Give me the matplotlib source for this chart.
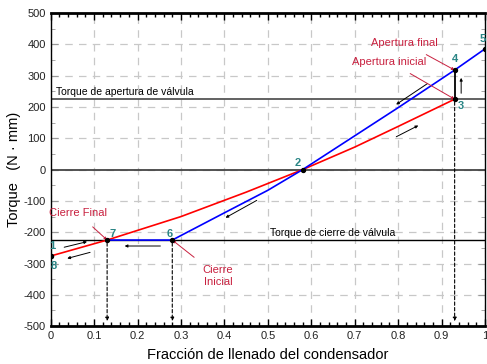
import matplotlib
matplotlib.use("Agg")
import matplotlib.pyplot as plt
from matplotlib.ticker import MultipleLocator

plt.rcParams['font.family'] = ['Liberation Sans', 'DejaVu Sans']

# curva de apertura (roja) y de cierre (azul)
red_x = [0, 0.13, 0.3, 0.45, 0.58, 0.7, 0.8, 0.93]
red_y = [-276, -225, -150, -72, 0, 72, 138, 225]
blue_x = [0.13, 0.28, 0.4, 0.5, 0.58, 0.7, 0.8, 0.93, 1.0]
blue_y = [-225, -225, -138, -66, 0, 108, 198, 318, 386]

torque_open = 225
torque_close = -225

# puntos numerados
pt_labels = ['1', '2', '3', '4', '5', '6', '7', '8']
pt_x = [0, 0.58, 0.93, 0.93, 1.0, 0.28, 0.13, 0]
pt_y = [-276, 0, 225, 318, 386, -225, -225, -276]
pt_off = [(0.003, 32), (-0.012, 22), (0.015, -22), (0.0, 35), (-0.005, 30),
          (-0.007, 20), (0.012, 20), (0.008, -32)]

# flechas de direccion (inicio, fin)
dir_arrows = [((0.873, 280), (0.79, 203)),
              ((0.79, 101), (0.852, 145)),
              ((0.945, 235), (0.945, 302)),
              ((0.48, -94), (0.397, -158)),
              ((0.259, -244), (0.164, -244)),
              ((0.025, -250), (0.09, -228)),
              ((0.097, -262), (0.032, -286))]

fig = plt.figure(figsize=(4.87, 3.64), dpi=100)
ax = fig.add_axes([0.104, 0.104, 0.892, 0.86])

ax.set_xlim(0, 1.0)
ax.set_ylim(-500, 500)
ax.xaxis.set_major_locator(MultipleLocator(0.1))
ax.xaxis.set_minor_locator(MultipleLocator(0.02))
ax.yaxis.set_major_locator(MultipleLocator(100))
ax.yaxis.set_minor_locator(MultipleLocator(50))
ax.xaxis.set_major_formatter(plt.FuncFormatter(lambda v, p: ('%g' % round(v, 2))))
ax.yaxis.set_major_formatter(plt.FuncFormatter(lambda v, p: '%d' % v))
ax.tick_params(which='both', direction='in', top=True, right=True, labelsize=8, labelcolor='#222222')
ax.tick_params(which='major', length=5, color='#999999')
ax.tick_params(which='minor', length=3, color='#999999')
ax.tick_params(axis='x', which='both', color='black', width=1)

ax.grid(True, which='major', linestyle=(0, (6, 5)), color='#c8c8c8', lw=0.9)
ax.set_axisbelow(True)
ax.spines['top'].set_linewidth(2)
ax.spines['bottom'].set_linewidth(2)
ax.spines['left'].set_linewidth(1)
ax.spines['right'].set_linewidth(1)

ax.axhline(0, color='#444444', lw=1.3, zorder=2)
ax.axhline(torque_open, color='#555555', lw=1.3, zorder=2)
ax.axhline(torque_close, color='black', lw=1.0, zorder=2)
ax.text(0.012, torque_open + 8, 'Torque de apertura de válvula', fontsize=7.5, va='bottom')
ax.text(0.505, torque_close + 8, 'Torque de cierre de válvula', fontsize=7.5, va='bottom')

ax.plot(red_x, red_y, color='red', lw=1.2, zorder=3)
ax.plot(blue_x, blue_y, color='blue', lw=1.2, zorder=3)
ax.plot([0.93, 0.93], [225, 318], color='black', lw=1.3, zorder=3)

# lineas de proyeccion al eje x
for xv, yv in [(0.13, -225), (0.28, -225), (0.93, 225)]:
    ax.annotate('', xy=(xv, -493), xytext=(xv, yv),
                arrowprops=dict(arrowstyle='-|>', mutation_scale=5, lw=0.8,
                                linestyle=(0, (3, 2)), color='black'), zorder=2)

for (x0, y0), (x1, y1) in dir_arrows:
    ax.annotate('', xy=(x1, y1), xytext=(x0, y0),
                arrowprops=dict(arrowstyle='-|>', mutation_scale=4, lw=0.7, color='black'))

ax.scatter(pt_x, pt_y, s=8, color='black', zorder=5)
for lab, xv, yv, (dx, dy) in zip(pt_labels, pt_x, pt_y, pt_off):
    ax.text(xv + dx, yv + dy, lab, color='#2a8585', fontsize=8, fontweight='bold',
            ha='center', va='center', zorder=6)

crimson = '#c8203f'
notes = [('Apertura final', (0.93, 318), (0.815, 405), 'center'),
         ('Apertura inicial', (0.93, 225), (0.78, 345), 'center'),
         ('Cierre Final', (0.13, -225), (0.063, -140), 'center'),
         ('Cierre\nInicial', (0.28, -225), (0.385, -340), 'center')]
for txt, xy, xyt, ha in notes:
    ax.annotate(txt, xy=xy, xytext=xyt, color=crimson, fontsize=8, ha=ha, va='center',
                arrowprops=dict(arrowstyle='-|>', mutation_scale=4, lw=0.7, color=crimson,
                                shrinkA=6, shrinkB=0))

ax.set_xlabel('Fracción de llenado del condensador', fontsize=10.5, labelpad=5)
ax.set_ylabel('Torque   (N · mm)', fontsize=10.5, labelpad=2)

fig.savefig('out.png', dpi=100)
